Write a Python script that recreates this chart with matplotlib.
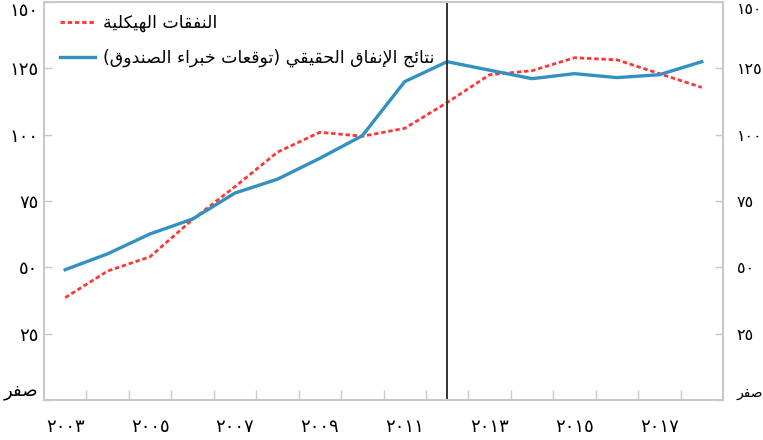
# plot.py: structural spending vs. actual spending outcomes (Arabic labels)

import matplotlib
matplotlib.use('Agg')
import matplotlib.pyplot as plt
from matplotlib.ticker import FixedLocator

# data
years = list(range(2003, 2019))
structural = [38.6, 48.6, 54.0, 68.0, 80.4, 93.4, 100.9, 99.4,
              102.4, 112.1, 122.6, 124.1, 129.0, 128.2, 123.0, 117.8]
actual = [49.1, 55.1, 62.6, 68.2, 78.0, 83.2, 91.1, 99.6,
          120.0, 127.5, 124.3, 121.1, 123.0, 121.5, 122.6, 127.5]
y_ticks = [0, 25, 50, 75, 100, 125, 150]
label_years = [2003, 2005, 2007, 2009, 2011, 2013, 2015, 2017]
split_year = 2012

lbl_structural = 'النفقات الهيكلية'
lbl_actual = 'نتائج الإنفاق الحقيقي (توقعات خبراء الصندوق)'
lbl_zero = 'صفر'

# matplotlib does no Arabic shaping, so map letters to presentation forms
# (isolated, final, initial, medial); two-form letters only join to the right
FORMS = {
    'ء': ('\uFE80',),
    'ا': ('\uFE8D', '\uFE8E'),
    'إ': ('\uFE87', '\uFE88'),
    'د': ('\uFEA9', '\uFEAA'),
    'ر': ('\uFEAD', '\uFEAE'),
    'و': ('\uFEED', '\uFEEE'),
    'ة': ('\uFE93', '\uFE94'),
    'ئ': ('\uFE89', '\uFE8A', '\uFE8B', '\uFE8C'),
    'ب': ('\uFE8F', '\uFE90', '\uFE91', '\uFE92'),
    'ت': ('\uFE95', '\uFE96', '\uFE97', '\uFE98'),
    'ج': ('\uFE9D', '\uFE9E', '\uFE9F', '\uFEA0'),
    'ح': ('\uFEA1', '\uFEA2', '\uFEA3', '\uFEA4'),
    'خ': ('\uFEA5', '\uFEA6', '\uFEA7', '\uFEA8'),
    'ص': ('\uFEB9', '\uFEBA', '\uFEBB', '\uFEBC'),
    'ع': ('\uFEC9', '\uFECA', '\uFECB', '\uFECC'),
    'ف': ('\uFED1', '\uFED2', '\uFED3', '\uFED4'),
    'ق': ('\uFED5', '\uFED6', '\uFED7', '\uFED8'),
    'ك': ('\uFED9', '\uFEDA', '\uFEDB', '\uFEDC'),
    'ل': ('\uFEDD', '\uFEDE', '\uFEDF', '\uFEE0'),
    'ن': ('\uFEE5', '\uFEE6', '\uFEE7', '\uFEE8'),
    'ه': ('\uFEE9', '\uFEEA', '\uFEEB', '\uFEEC'),
    'ي': ('\uFEF1', '\uFEF2', '\uFEF3', '\uFEF4'),
}


def dual(c):
    return c in FORMS and len(FORMS[c]) == 4


def joining(c):
    return c in FORMS and len(FORMS[c]) >= 2


def ar(text):
    out = []
    i = 0
    n = len(text)
    while i < n:
        c = text[i]
        prev_joins = i > 0 and dual(text[i - 1])
        if c == 'ل' and i + 1 < n and text[i + 1] == 'إ':
            out.append('\uFEFA' if prev_joins else '\uFEF9')
            i += 2
            continue
        if not joining(c):
            out.append(FORMS[c][0] if c in FORMS else c)
            i += 1
            continue
        f = FORMS[c]
        next_joins = dual(c) and i + 1 < n and joining(text[i + 1])
        if prev_joins and next_joins:
            out.append(f[3])
        elif prev_joins:
            out.append(f[1])
        elif next_joins:
            out.append(f[2])
        else:
            out.append(f[0])
        i += 1
    # visual order, with mirrored brackets
    vis = ''.join(reversed(out))
    return vis.translate(str.maketrans('()', ')('))


def ar_num(v):
    return str(v).translate(str.maketrans('0123456789', '٠١٢٣٤٥٦٧٨٩'))


plt.rcParams['font.family'] = ['DejaVu Sans']

fig = plt.figure(figsize=(7.63, 4.40), dpi=100)
ax = fig.add_axes([44 / 763, 40 / 440, 679 / 763, 398 / 440])

x = list(range(len(years)))
ax.plot(x, structural, color='#ff3636', lw=2, dashes=(1.6, 1.0),
        label=ar(lbl_structural))
ax.plot(x, actual, color='#3391c1', lw=2.4, label=ar(lbl_actual))
ax.axvline(years.index(split_year), color='#333333', lw=1.4)

ax.set_xlim(-0.5, len(years) - 0.5)
ax.set_ylim(0, 150)

# x axis: labels at every other year, tick marks at category boundaries
ax.set_xticks([years.index(y) for y in label_years])
ax.set_xticklabels([ar_num(y) for y in label_years], fontsize=13)
ax.xaxis.set_minor_locator(FixedLocator([i + 0.5 for i in range(len(years) - 1)]))
ax.tick_params(axis='x', which='major', length=0, pad=13)
ax.tick_params(axis='x', which='minor', direction='in', length=7,
               color='#c8c8c8', width=1)

# y axis on both sides
ylabels = [ar(lbl_zero) if v == 0 else ar_num(v) for v in y_ticks]
ax.set_yticks(y_ticks)
ax.set_yticklabels(ylabels, fontsize=13)
ax.tick_params(axis='y', direction='in', length=6, color='#c8c8c8', width=1,
               left=True, right=True, labelleft=True, labelright=True, pad=4)

# right-hand labels sit close to the figure edge, keep them inside
yt = ax.yaxis.get_major_ticks()
for tk in yt:
    tk.label2.set_x(1.0 + 8 / 679)
    tk.label2.set_fontsize(11.5)
yt[0].label1.set_verticalalignment('bottom')
yt[0].label2.set_verticalalignment('bottom')
yt[0].label2.set_fontsize(10)
yt[-1].label1.set_verticalalignment('top')
yt[-1].label2.set_verticalalignment('top')
yt[-1].label1.set_y(146.5)
yt[-1].label2.set_y(146.5)

for s in ax.spines.values():
    s.set_color('#c8c8c8')
    s.set_linewidth(1.5)

ax.legend(loc='upper left', bbox_to_anchor=(16 / 679, 0.97), frameon=False,
          fontsize=12.5, borderpad=0, borderaxespad=0, handlelength=2.0,
          handletextpad=0.5, labelspacing=0.95)

plt.savefig('out.png', dpi=100)
